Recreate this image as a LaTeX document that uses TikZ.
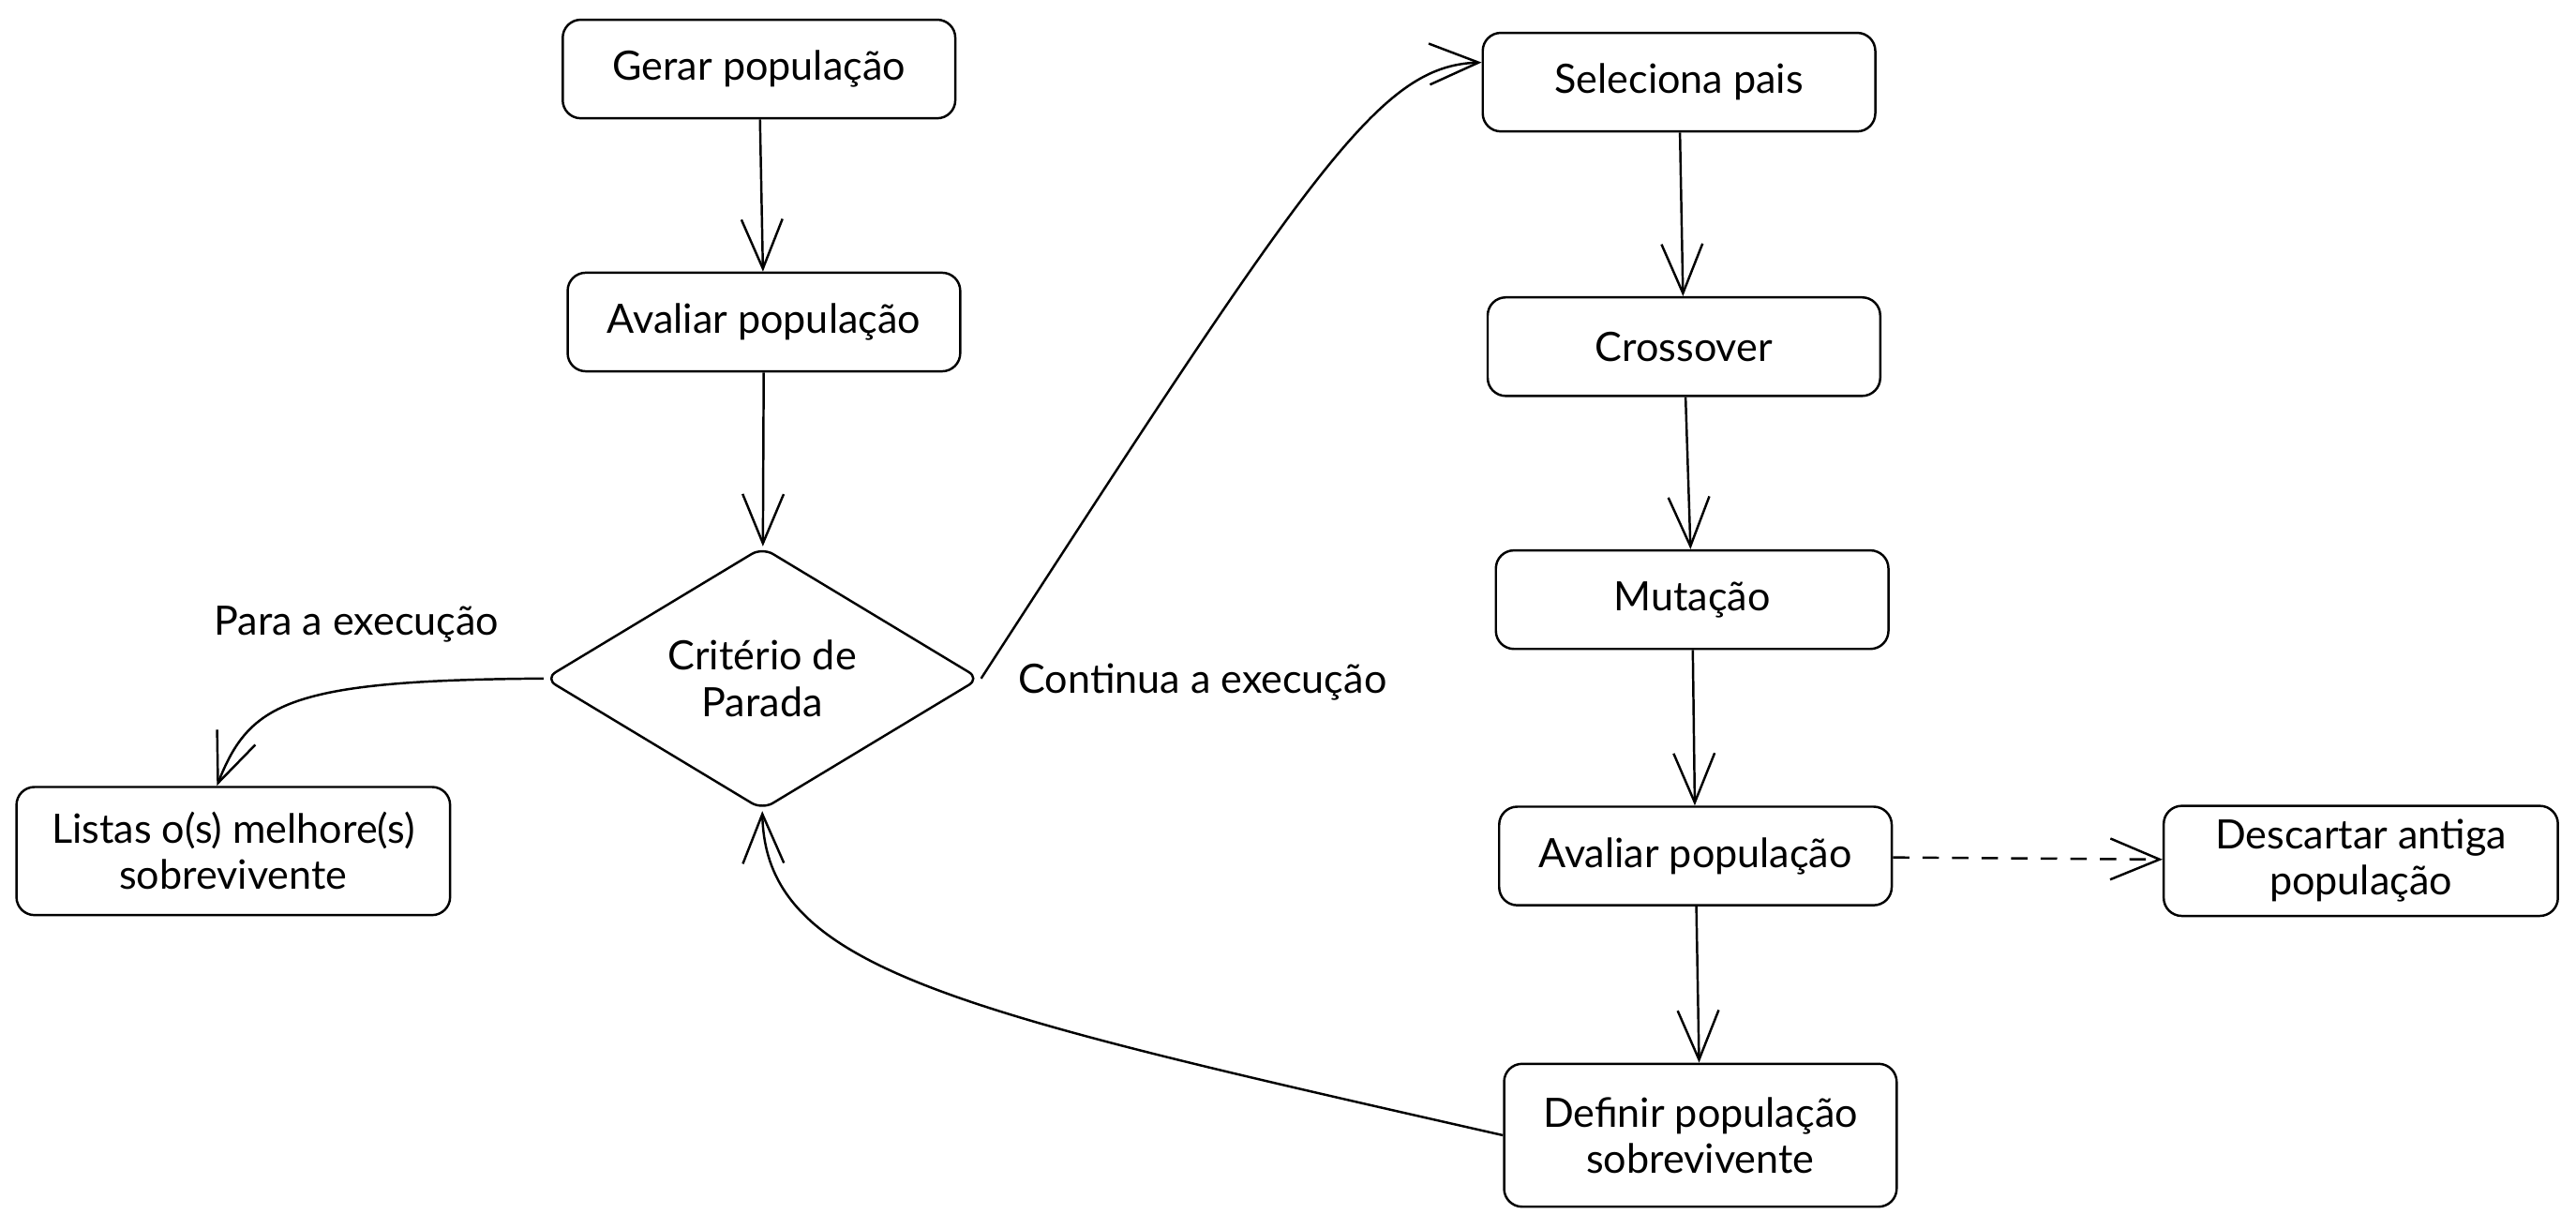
\documentclass[tikz,border=0pt]{standalone}
\usepackage{fontspec}
\setmainfont{Lato}
\usetikzlibrary{arrows.meta,shapes.geometric}
\begin{document}
\begin{tikzpicture}[x=0.02cm, y=-0.02cm, line width=0.8pt,
        >={Straight Barb[length=0.6cm, width=0.5cm]},
        font=\fontsize{14}{16}\selectfont,
        caixa/.style={draw, rounded corners=0.22cm, minimum width=4.78cm, minimum height=1.2cm, align=center},
        decisao/.style={draw, diamond, rounded corners=0.15cm, shape aspect=1.66, inner sep=1pt, minimum width=5.3cm, minimum height=3.2cm, align=center}]
                \useasboundingbox (0,0) rectangle (1568,747.5);
                % Nodes
                \node[caixa] (gerar) at (462, 42) {Gerar população};
                \node[caixa] (aval1) at (465, 196) {Avaliar população};
                \node[decisao] (crit) at (464, 413) {Critério de\\Parada};
                \node[caixa, minimum width=5.28cm, minimum height=1.56cm] (listas) at (142, 518) {Listas o(s) melhore(s)\\sobrevivente};
                \node (para) at (217, 380) {Para a execução};
                \node (cont) at (732, 415) {Continua a execução};
                \node[caixa] (selec) at (1022, 50) {Seleciona pais};
                \node[caixa] (cross) at (1025, 211) {Crossover};
                \node[caixa] (mut) at (1030, 365) {Mutação};
                \node[caixa] (aval2) at (1032, 521) {Avaliar população};
                \node[caixa, minimum width=4.8cm, minimum height=1.34cm] (desc) at (1437, 524) {Descartar antiga\\população};
                \node[caixa, minimum height=1.74cm] (def) at (1035, 691) {Definir população\\sobrevivente};
                % Edges
                \draw[->] (gerar) -- (aval1);
                \draw[->] (aval1) -- (crit);
                \draw[->] (crit.west) .. controls (175, 414) and (152, 428) .. ([xshift=-0.2cm]listas.north);
                \draw[->] (crit.east) .. controls (800, 100) and (840, 40) .. ([yshift=0.24cm]selec.west);

                \draw[->] (selec) -- (cross);
                \draw[->] (cross) -- (mut);
                \draw[->] (mut) -- (aval2);
                \draw[->] (aval2) -- (def);

                \draw[->, dash pattern=on 0.2cm off 0.16cm] (aval2) -- (desc);
                \draw[->] (def.west) .. controls (580, 615) and (466, 590) .. (crit.south);
            \end{tikzpicture}
\end{document}
